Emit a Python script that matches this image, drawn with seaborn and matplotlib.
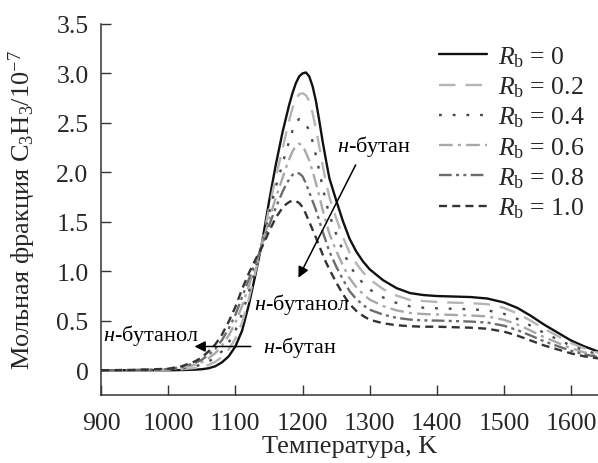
import numpy as np
import pandas as pd
import matplotlib
matplotlib.use("Agg")
import matplotlib.pyplot as plt
import seaborn as sns

# temperature grid, K
temperature = [900, 950, 1000, 1020, 1040, 1050, 1060, 1070, 1080, 1090, 1100,
               1110, 1120, 1130, 1140, 1150, 1160,
               1170, 1175, 1180, 1185, 1190, 1195, 1200, 1205, 1210, 1215,
               1220, 1225, 1230, 1235, 1240,
               1250, 1260, 1270, 1280, 1290, 1300,
               1320, 1340, 1360, 1380, 1400, 1425, 1450, 1475,
               1500, 1520, 1540, 1560, 1580, 1600, 1620, 1640]

# C3H3 mole fraction / 1e-7 for each butanol ratio R_b
rb_0 = [0, 0, 0, 0.002, 0.006, 0.01, 0.02, 0.04, 0.08, 0.14, 0.24,
        0.40, 0.66, 0.97, 1.30, 1.70, 2.07,
        2.40, 2.54, 2.68, 2.80, 2.90, 2.97, 3.00, 3.01, 2.97, 2.87,
        2.72, 2.52, 2.31, 2.12, 1.94,
        1.72, 1.51, 1.33, 1.20, 1.10, 1.02,
        0.91, 0.83, 0.78, 0.76, 0.75, 0.745, 0.74, 0.725,
        0.685, 0.63, 0.55, 0.46, 0.38, 0.30, 0.24, 0.19]
rb_02 = [0, 0, 0.003, 0.01, 0.023, 0.034, 0.054, 0.084, 0.136, 0.21, 0.32,
         0.48, 0.72, 1.00, 1.29, 1.63, 1.95,
         2.23, 2.38, 2.52, 2.65, 2.74, 2.79, 2.80, 2.78, 2.72, 2.60,
         2.44, 2.26, 2.07, 1.90, 1.75,
         1.54, 1.35, 1.19, 1.08, 0.99, 0.92,
         0.82, 0.755, 0.71, 0.70, 0.69, 0.683, 0.678, 0.668,
         0.63, 0.574, 0.50, 0.418, 0.346, 0.274, 0.22, 0.176]
rb_04 = [0, 0.001, 0.006, 0.017, 0.04, 0.058, 0.088, 0.128, 0.192, 0.28, 0.40,
         0.57, 0.79, 1.03, 1.28, 1.58, 1.85,
         2.08, 2.20, 2.31, 2.42, 2.50, 2.54, 2.53, 2.49, 2.42, 2.31,
         2.17, 2.01, 1.85, 1.70, 1.57,
         1.38, 1.21, 1.06, 0.96, 0.88, 0.816,
         0.736, 0.68, 0.646, 0.632, 0.626, 0.621, 0.616, 0.606,
         0.57, 0.518, 0.45, 0.376, 0.312, 0.248, 0.20, 0.162]
rb_06 = [0, 0.002, 0.009, 0.025, 0.056, 0.082, 0.122, 0.172, 0.248, 0.35, 0.48,
         0.65, 0.85, 1.06, 1.27, 1.52, 1.74,
         1.94, 2.04, 2.13, 2.21, 2.27, 2.29, 2.27, 2.20, 2.12, 2.01,
         1.89, 1.76, 1.62, 1.50, 1.38,
         1.21, 1.06, 0.93, 0.84, 0.77, 0.714,
         0.649, 0.605, 0.579, 0.568, 0.564, 0.559, 0.554, 0.544,
         0.51, 0.462, 0.40, 0.334, 0.278, 0.222, 0.18, 0.148]
rb_08 = [0, 0.002, 0.012, 0.032, 0.073, 0.106, 0.156, 0.216, 0.304, 0.42, 0.56,
         0.74, 0.92, 1.09, 1.26, 1.46, 1.64,
         1.80, 1.87, 1.93, 1.975, 1.995, 1.99, 1.96, 1.89, 1.80, 1.71,
         1.62, 1.51, 1.40, 1.30, 1.20,
         1.05, 0.92, 0.80, 0.72, 0.66, 0.612,
         0.562, 0.53, 0.512, 0.504, 0.502, 0.497, 0.492, 0.482,
         0.45, 0.406, 0.35, 0.292, 0.244, 0.196, 0.16, 0.134]
rb_10 = [0, 0.003, 0.015, 0.04, 0.09, 0.13, 0.19, 0.26, 0.36, 0.49, 0.64,
         0.82, 0.98, 1.12, 1.25, 1.40, 1.54,
         1.64, 1.675, 1.70, 1.715, 1.71, 1.69, 1.65, 1.58, 1.50, 1.42,
         1.34, 1.255, 1.17, 1.09, 1.02,
         0.89, 0.77, 0.67, 0.60, 0.55, 0.51,
         0.475, 0.455, 0.445, 0.44, 0.44, 0.435, 0.43, 0.42,
         0.39, 0.35, 0.30, 0.25, 0.21, 0.17, 0.14, 0.12]

labels = ["0", "0.2", "0.4", "0.6", "0.8", "1.0"]
x_ticks = [900, 1000, 1100, 1200, 1300, 1400, 1500, 1600]
y_ticks = [0, 0.5, 1.0, 1.5, 2.0, 2.5, 3.0, 3.5]
y_ticklabels = ["0", "0.5", "1.0", "1.5", "2.0", "2.5", "3.0", "3.5"]

series = [rb_0, rb_02, rb_04, rb_06, rb_08, rb_10]
colors = ["#111111", "#b5b5b5", "#4a4a4a", "#a8a8a8", "#6c6c6c", "#333333"]
styles = ["-", (0, (7.0, 4.2)), (0, (1.2, 4.6)), (0, (5.8, 2.2, 1.3, 2.2)),
          (0, (5.4, 1.8, 1.3, 1.8, 1.3, 1.8)), (0, (3.4, 2.2))]

sns.set_style("ticks")
plt.rcParams["font.family"] = ["Liberation Serif", "DejaVu Serif"]
plt.rcParams["mathtext.fontset"] = "custom"
plt.rcParams["mathtext.rm"] = "Liberation Serif"
plt.rcParams["mathtext.it"] = "Liberation Serif:italic"

fig = plt.figure(figsize=(5.98, 4.64), dpi=100)
ax = fig.add_axes([0.169, 0.1466, 0.831, 0.7996])

for vals, lab, c, ls in zip(series, labels, colors, styles):
    df = pd.DataFrame({"T": temperature, "y": vals})
    sns.lineplot(data=df, x="T", y="y", ax=ax, color=c, linestyle=ls,
                 linewidth=1.7, label=r"$R_\mathrm{b}$ = " + lab)

ax.set_xlim(900, 1640)
ax.set_ylim(-0.25, 3.5)
ax.set_xticks(x_ticks)
ax.set_yticks(y_ticks)
ax.set_yticklabels(y_ticklabels)
ax.tick_params(direction="in", length=7, width=1, labelsize=18.5, color="#333333")
ax.tick_params(axis="x", pad=12)
ax.tick_params(axis="y", pad=9)
for s in ["top", "right"]:
    ax.spines[s].set_visible(False)
for s in ["left", "bottom"]:
    ax.spines[s].set_linewidth(1.1)
    ax.spines[s].set_color("#333333")

ax.set_xlabel("Температура, K", fontsize=19, labelpad=1)
ax.set_ylabel("Мольная фракция C$_3$H$_3$/10$^{-7}$", fontsize=19, labelpad=13)

leg = ax.legend(loc="upper left", bbox_to_anchor=(0.68, 0.945), frameon=False,
                fontsize=18.5, handlelength=1.85, handletextpad=0.45,
                labelspacing=0.22, borderpad=0, borderaxespad=0)

# annotations
ann_kw = dict(fontsize=16, color="black")
ax.text(1252, 2.27, "$\\mathit{н}$-бутан", va="center", ha="left", **ann_kw)
ax.annotate("", xy=(1192, 0.91), xytext=(1281, 2.1),
            arrowprops=dict(arrowstyle="-|>", lw=1.1, color="black", mutation_scale=16))
ax.text(1127, 0.67, "$\\mathit{н}$-бутанол", va="center", ha="left", **ann_kw)
ax.text(903, 0.36, "$\\mathit{н}$-бутанол", va="center", ha="left", **ann_kw)
ax.annotate("", xy=(1035, 0.24), xytext=(1127, 0.24),
            arrowprops=dict(arrowstyle="-|>", lw=1.1, color="black", mutation_scale=16))
ax.text(1141, 0.24, "$\\mathit{н}$-бутан", va="center", ha="left", **ann_kw)

fig.savefig("out.png", dpi=100)
